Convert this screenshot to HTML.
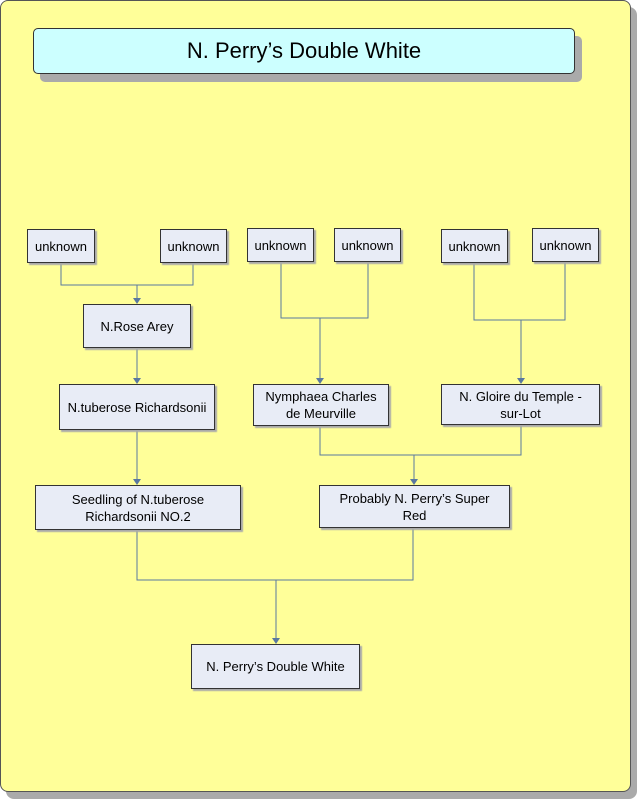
<!DOCTYPE html>
<html><head><style>
body{margin:0;width:637px;height:800px;background:#fff;position:relative;overflow:hidden;font-family:"Liberation Sans","Noto Sans CJK JP",sans-serif}
.frame{position:absolute;left:0;top:0;width:629px;height:790px;background:#ffff99;border:1px solid #555;border-radius:8px;box-shadow:6px 7px 0 #aaa}
.title{position:absolute;left:33px;top:28px;width:540px;height:44px;background:#ccffff;border:1px solid #333;border-radius:5px;box-shadow:7px 8px 0 #aaa;font-size:22px;text-align:center;line-height:44px}
.b{position:absolute;background:#e8ecf6;border:1px solid #333;box-shadow:2px 2px 1px #aaa;font-size:13px;display:flex;align-items:center;justify-content:center;text-align:center;line-height:17px;box-sizing:border-box}
svg{position:absolute;left:0;top:0}
</style></head><body>
<div class="frame"></div>
<div class="title">N. Perry’s Double White</div>
<svg width="637" height="800">
<g stroke="#5a78a0" stroke-width="1" fill="none">
<path d="M61 263V285H193V263M137 285V302"/>
<path d="M281 262V318H368V262M320 318V382"/>
<path d="M474 263V320H565V262M521 320V382"/>
<path d="M137 348V382"/>
<path d="M320 426V455H521V425M414 455V483"/>
<path d="M137 430V483"/>
<path d="M137 530V580H413V528M276 580V642"/>
</g>
<g fill="#5a78a0">
<path d="M133 298h8l-4 6z"/><path d="M316 378h8l-4 6z"/><path d="M517 378h8l-4 6z"/>
<path d="M133 378h8l-4 6z"/><path d="M410 479h8l-4 6z"/><path d="M133 479h8l-4 6z"/>
<path d="M272 638h8l-4 6z"/>
</g>
</svg>
<div class="b" style="left:27px;top:229px;width:68px;height:34px">unknown</div>
<div class="b" style="left:160px;top:229px;width:67px;height:34px">unknown</div>
<div class="b" style="left:247px;top:228px;width:67px;height:34px">unknown</div>
<div class="b" style="left:334px;top:228px;width:67px;height:34px">unknown</div>
<div class="b" style="left:441px;top:229px;width:67px;height:34px">unknown</div>
<div class="b" style="left:532px;top:228px;width:67px;height:34px">unknown</div>
<div class="b" style="left:83px;top:304px;width:108px;height:44px">N.Rose Arey</div>
<div class="b" style="left:59px;top:384px;width:156px;height:46px">N.tuberose Richardsonii</div>
<div class="b" style="left:253px;top:384px;width:136px;height:42px">Nymphaea Charles<br>de Meurville</div>
<div class="b" style="left:441px;top:384px;width:159px;height:41px">N. Gloire du Temple -<br>sur-Lot</div>
<div class="b" style="left:35px;top:485px;width:206px;height:45px">Seedling of N.tuberose<br>Richardsonii NO.2</div>
<div class="b" style="left:319px;top:485px;width:191px;height:43px">Probably N. Perry’s Super<br>Red</div>
<div class="b" style="left:191px;top:644px;width:169px;height:45px">N. Perry’s Double White</div>
</body></html>
